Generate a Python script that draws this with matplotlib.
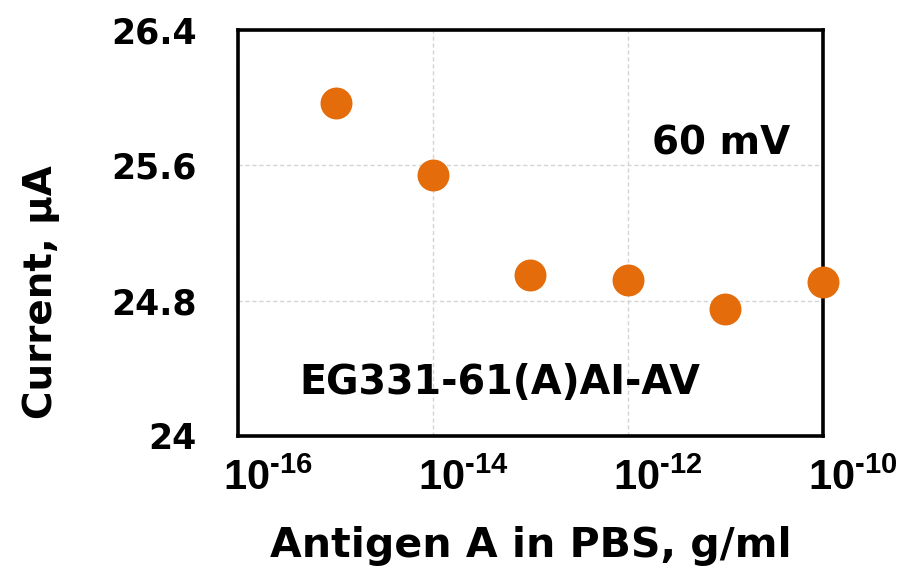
import numpy as np
import matplotlib
matplotlib.use("Agg")
import matplotlib.pyplot as plt
from matplotlib.transforms import ScaledTranslation

# antigen concentration (g/ml) and measured current (uA) at 60 mV
concentration = [1e-15, 1e-14, 1e-13, 1e-12, 1e-11, 1e-10]
current = [25.97, 25.54, 24.95, 24.92, 24.75, 24.91]

x_tick_exponents = [-16, -14, -12, -10]
y_ticks = [24, 24.8, 25.6, 26.4]
y_tick_labels = ["24", "24.8", "25.6", "26.4"]

plt.rcParams["font.family"] = "DejaVu Sans"
plt.rcParams["font.weight"] = "bold"
plt.rcParams["mathtext.fontset"] = "custom"
plt.rcParams["mathtext.bf"] = "Liberation Sans:bold"
plt.rcParams["mathtext.rm"] = "Liberation Sans:bold"
plt.rcParams["mathtext.default"] = "bf"

fig = plt.figure(figsize=(9.09, 5.75), dpi=100)
ax = fig.add_axes([0.262, 0.242, 0.643, 0.706])

ax.plot(concentration, current, "o", color="#E46C0A", markersize=23,
        markeredgewidth=0, zorder=3, clip_on=False)

ax.set_xscale("log")
ax.set_xlim(1e-16, 1e-10)
ax.set_ylim(24, 26.4)

ax.set_xticks([10.0 ** e for e in x_tick_exponents])
ax.set_xticklabels(["$\\mathbf{10^{\u2010%d}}$" % abs(e) for e in x_tick_exponents],
                   fontsize=30, ha="left")
ax.xaxis.set_minor_locator(matplotlib.ticker.NullLocator())
ax.set_yticks(y_ticks)
ax.set_yticklabels(y_tick_labels, fontsize=25)
ax.tick_params(axis="both", length=0)
ax.tick_params(axis="x", pad=15)
ax.tick_params(axis="y", pad=30)

# decade labels sit slightly left of their ticks
shift = ScaledTranslation(-15 / 100, 0, fig.dpi_scale_trans)
for lbl in ax.get_xticklabels():
    lbl.set_transform(lbl.get_transform() + shift)

ax.grid(True, color="#d4d4d4", linestyle=(0, (3, 2)), linewidth=1.0)
ax.set_axisbelow(True)

for sp in ax.spines.values():
    sp.set_linewidth(2.6)
    sp.set_color("black")

ax.set_xlabel("Antigen A in PBS, g/ml", fontsize=29.5, fontweight="bold")
ax.xaxis.set_label_coords(0.5, -0.222)
ax.set_ylabel("Current, µA", fontsize=28, fontweight="bold")
ax.yaxis.set_label_coords(-0.304, 0.355)

ax.text(0.826, 0.72, "60 mV", transform=ax.transAxes, fontsize=28,
        fontweight="bold", ha="center", va="center")
ax.text(0.448, 0.13, "EG331-61(A)AI-AV", transform=ax.transAxes, fontsize=28.5,
        fontweight="bold", ha="center", va="center")

fig.savefig("out.png", dpi=100)
